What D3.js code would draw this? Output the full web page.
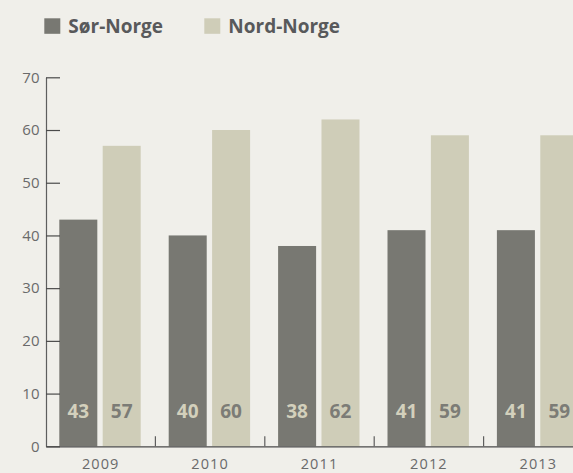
<!DOCTYPE html>
<html><head><meta charset="utf-8">
<script src="https://cdn.jsdelivr.net/npm/d3@7"></script>
<style>
html,body{margin:0;padding:0;background:#f0efea;}
svg{display:block;font-family:"Open Sans",sans-serif;}
</style></head><body>
<svg id="c" width="573" height="473"></svg>
<script>
const years = ["2009","2010","2011","2012","2013"];
const seriesNames = ["Sør-Norge","Nord-Norge"];
const sorNorge = [43,40,38,41,41];
const nordNorge = [57,60,62,59,59];
const yTicks = [0,10,20,30,40,50,60,70];
const colors = ["#787872","#cfcdb8"];
const labelColors = ["#d3d0bc","#7c7c76"];

const svg = d3.select("#c");
const y = d3.scaleLinear().domain([0,70]).range([446.3,77.3]);
const x0 = d3.scaleBand().domain(years).range([46,46+109.4*5]).paddingInner(0).paddingOuter(0);
const x1 = d3.scaleBand().domain(seriesNames).range([13.3,94.7]).paddingInner(0.124);

const data = years.map((yr,i)=>({year:yr, vals:[sorNorge[i],nordNorge[i]]}));

// bars
const g = svg.selectAll("g.grp").data(data).join("g").attr("class","grp")
  .attr("transform",d=>`translate(${x0(d.year)},0)`);
g.selectAll("rect").data(d=>d.vals.map((v,k)=>({v,k}))).join("rect")
  .attr("x",d=>x1(seriesNames[d.k]))
  .attr("width",x1.bandwidth())
  .attr("y",d=>y(d.v))
  .attr("height",d=>y(0)-y(d.v))
  .attr("fill",d=>colors[d.k]);
g.selectAll("text").data(d=>d.vals.map((v,k)=>({v,k}))).join("text")
  .attr("x",d=>x1(seriesNames[d.k])+x1.bandwidth()/2)
  .attr("y",y(0)-28)
  .attr("text-anchor","middle")
  .style("font-size","19px")
  .style("font-weight","bold")
  .attr("fill",d=>labelColors[d.k])
  .text(d=>d.v);

// y axis
const yAxis = d3.axisLeft(y).tickValues(yTicks).tickSizeInner(-14).tickSizeOuter(0).tickPadding(6);
const ya = svg.append("g").attr("transform","translate(46,0)").call(yAxis);
ya.select(".domain").attr("stroke","#5e5e5e").attr("stroke-width",1.2);
ya.selectAll(".tick line").attr("stroke","#4a4a4a").attr("stroke-width",1.2);
ya.selectAll(".tick text").attr("fill","#6a6a6a").style("font-size","15px").style("letter-spacing","0.3px").style("font-family","Open Sans, sans-serif");

// x axis baseline and separators
const xAxis = d3.axisBottom(x0).tickSize(0).tickPadding(12);
const xa = svg.append("g").attr("transform",`translate(0,${y(0)})`).call(xAxis);
xa.select(".domain").attr("stroke","#4a4a4a").attr("stroke-width",1.2);
xa.selectAll(".tick text").attr("fill","#6a6a6a").style("font-size","14.5px").style("letter-spacing","1.1px").style("font-family","Open Sans, sans-serif");
svg.append("g").selectAll("line").data(years.slice(1)).join("line")
  .attr("x1",d=>x0(d)).attr("x2",d=>x0(d))
  .attr("y1",y(0)-10).attr("y2",y(0))
  .attr("stroke","#5e5e5e").attr("stroke-width",1.2);

// legend
const legX = [44.3,204.3];
const lg = svg.append("g").selectAll("g").data(seriesNames).join("g")
  .attr("transform",(d,i)=>`translate(${legX[i]},18.3)`);
lg.append("rect").attr("width",16).attr("height",15.5).attr("fill",(d,i)=>colors[i]);
lg.append("text").attr("x",24).attr("y",15).style("font-size","19px").style("font-weight","bold")
  .attr("fill","#58595b").text(d=>d);
</script>
</body></html>
